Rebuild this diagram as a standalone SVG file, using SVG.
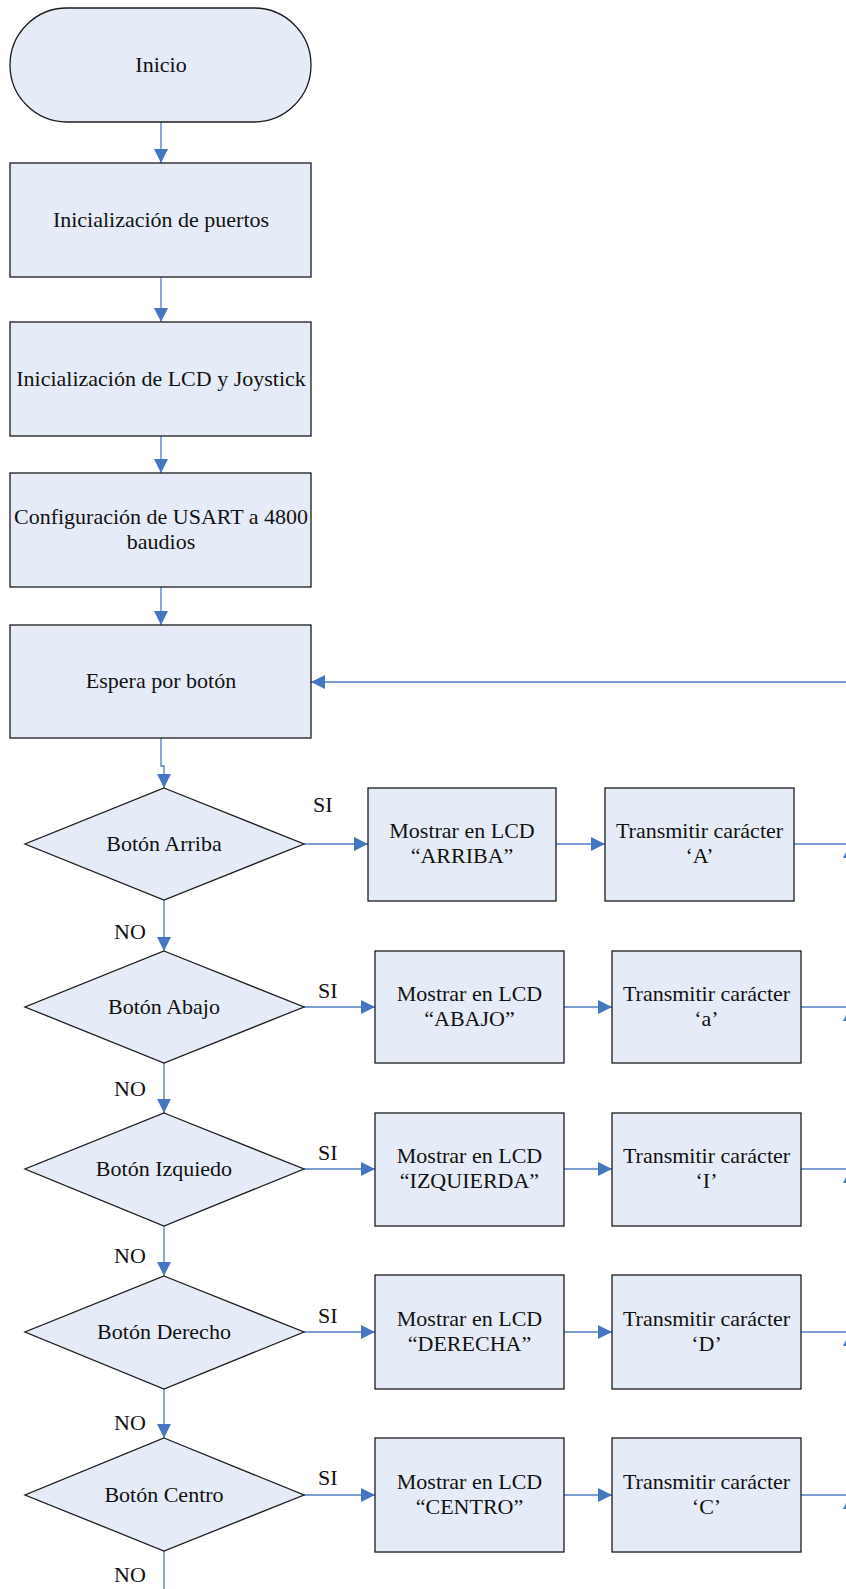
<svg xmlns="http://www.w3.org/2000/svg" width="846" height="1589" viewBox="0 0 846 1589">
<style>
.n{fill:#E6ECF7;stroke:#1c1c1c;stroke-width:1.3}
.t{font-family:"Liberation Serif","Times New Roman",serif;font-size:22px;fill:#111;text-anchor:middle}
.l{font-family:"Liberation Serif","Times New Roman",serif;font-size:22px;fill:#111}
.c{fill:none;stroke:#4F7FC4;stroke-width:1.3}
</style>
<defs>
<marker id="ah" markerUnits="userSpaceOnUse" markerWidth="14" markerHeight="14" refX="14" refY="7" orient="auto" viewBox="0 0 14 14">
<path d="M0,0 L14,7 L0,14 z" fill="#4675C2"/>
</marker>
</defs>
<rect width="846" height="1589" fill="#ffffff"/>
<g id="connectors">
<path class="c" d="M161,122 V163" marker-end="url(#ah)"/>
<path class="c" d="M161,277 V322" marker-end="url(#ah)"/>
<path class="c" d="M161,436 V473" marker-end="url(#ah)"/>
<path class="c" d="M161,587 V625" marker-end="url(#ah)"/>
<path class="c" d="M161,738 V766 H164 V788" marker-end="url(#ah)"/>
<path class="c" d="M164,900 V951" marker-end="url(#ah)"/>
<path class="c" d="M164,1063 V1113" marker-end="url(#ah)"/>
<path class="c" d="M164,1226 V1276" marker-end="url(#ah)"/>
<path class="c" d="M164,1389 V1438" marker-end="url(#ah)"/>
<path class="c" d="M164,1551 V1589"/>
<path class="c" d="M304,844 H368" marker-end="url(#ah)"/>
<path class="c" d="M304,1007 H375" marker-end="url(#ah)"/>
<path class="c" d="M304,1169 H375" marker-end="url(#ah)"/>
<path class="c" d="M304,1332 H375" marker-end="url(#ah)"/>
<path class="c" d="M304,1495 H375" marker-end="url(#ah)"/>
<path class="c" d="M556,844 H605" marker-end="url(#ah)"/>
<path class="c" d="M564,1007 H612" marker-end="url(#ah)"/>
<path class="c" d="M564,1169 H612" marker-end="url(#ah)"/>
<path class="c" d="M564,1332 H612" marker-end="url(#ah)"/>
<path class="c" d="M564,1495 H612" marker-end="url(#ah)"/>
<path class="c" d="M794,844 H850"/>
<path class="c" d="M792,1007 H850"/>
<path class="c" d="M797,1169 H850"/>
<path class="c" d="M801,1332 H850"/>
<path class="c" d="M801,1495 H850"/>
<path class="c" d="M850,1560 V1495" marker-end="url(#ah)"/>
<path class="c" d="M850,1495 V1332" marker-end="url(#ah)"/>
<path class="c" d="M850,1332 V1169" marker-end="url(#ah)"/>
<path class="c" d="M850,1169 V1007" marker-end="url(#ah)"/>
<path class="c" d="M850,1007 V844" marker-end="url(#ah)"/>
<path class="c" d="M850,844 V682 H311" marker-end="url(#ah)"/>
</g>
<g id="inicio"><rect class="n" x="10" y="8" width="301" height="114" rx="57" ry="57"/><text class="t" x="161" y="72">Inicio</text></g>
<g id="puertos"><rect class="n" x="10" y="163" width="301" height="114"/><text class="t" x="161" y="227">Inicialización de puertos</text></g>
<g id="lcd"><rect class="n" x="10" y="322" width="301" height="114"/><text class="t" x="161" y="386">Inicialización de LCD y Joystick</text></g>
<g id="usart"><rect class="n" x="10" y="473" width="301" height="114"/><text class="t" x="161" y="524">Configuración de USART a 4800</text><text class="t" x="161" y="549">baudios</text></g>
<g id="espera"><rect class="n" x="10" y="625" width="301" height="113"/><text class="t" x="161" y="688">Espera por botón</text></g>

<g id="d_arriba"><polygon class="n" points="164,788 304,844 164,900 25,844"/><text class="t" x="164" y="851">Botón Arriba</text></g>
<g id="d_abajo"><polygon class="n" points="164,951 304,1007 164,1063 25,1007"/><text class="t" x="164" y="1014">Botón Abajo</text></g>
<g id="d_izq"><polygon class="n" points="164,1113 304,1169 164,1226 25,1169"/><text class="t" x="164" y="1176">Botón Izquiedo</text></g>
<g id="d_der"><polygon class="n" points="164,1276 304,1332 164,1389 25,1332"/><text class="t" x="164" y="1339">Botón Derecho</text></g>
<g id="d_centro"><polygon class="n" points="164,1438 304,1495 164,1551 25,1495"/><text class="t" x="164" y="1502">Botón Centro</text></g>

<g id="m_arriba"><rect class="n" x="368" y="788" width="188" height="113"/><text class="t" x="462" y="838">Mostrar en LCD</text><text class="t" x="462" y="863">“ARRIBA”</text></g>
<g id="t_arriba"><rect class="n" x="605" y="788" width="189" height="113"/><text class="t" x="699.5" y="838">Transmitir carácter</text><text class="t" x="699.5" y="863">‘A’</text></g>
<g id="m_abajo"><rect class="n" x="375" y="951" width="189" height="112"/><text class="t" x="469.5" y="1001">Mostrar en LCD</text><text class="t" x="469.5" y="1026">“ABAJO”</text></g>
<g id="t_abajo"><rect class="n" x="612" y="951" width="189" height="112"/><text class="t" x="706.5" y="1001">Transmitir carácter</text><text class="t" x="706.5" y="1026">‘a’</text></g>
<g id="m_izq"><rect class="n" x="375" y="1113" width="189" height="113"/><text class="t" x="469.5" y="1163">Mostrar en LCD</text><text class="t" x="469.5" y="1188">“IZQUIERDA”</text></g>
<g id="t_izq"><rect class="n" x="612" y="1113" width="189" height="113"/><text class="t" x="706.5" y="1163">Transmitir carácter</text><text class="t" x="706.5" y="1188">‘I’</text></g>
<g id="m_der"><rect class="n" x="375" y="1275" width="189" height="114"/><text class="t" x="469.5" y="1326">Mostrar en LCD</text><text class="t" x="469.5" y="1351">“DERECHA”</text></g>
<g id="t_der"><rect class="n" x="612" y="1275" width="189" height="114"/><text class="t" x="706.5" y="1326">Transmitir carácter</text><text class="t" x="706.5" y="1351">‘D’</text></g>
<g id="m_centro"><rect class="n" x="375" y="1438" width="189" height="114"/><text class="t" x="469.5" y="1489">Mostrar en LCD</text><text class="t" x="469.5" y="1514">“CENTRO”</text></g>
<g id="t_centro"><rect class="n" x="612" y="1438" width="189" height="114"/><text class="t" x="706.5" y="1489">Transmitir carácter</text><text class="t" x="706.5" y="1514">‘C’</text></g>

<g id="labels">
<text class="l" x="313" y="812">SI</text>
<text class="l" x="318" y="998">SI</text>
<text class="l" x="318" y="1160">SI</text>
<text class="l" x="318" y="1323">SI</text>
<text class="l" x="318" y="1485">SI</text>
<text class="l" x="114" y="939">NO</text>
<text class="l" x="114" y="1096">NO</text>
<text class="l" x="114" y="1263">NO</text>
<text class="l" x="114" y="1430">NO</text>
<text class="l" x="114" y="1582">NO</text>
</g>
</svg>
